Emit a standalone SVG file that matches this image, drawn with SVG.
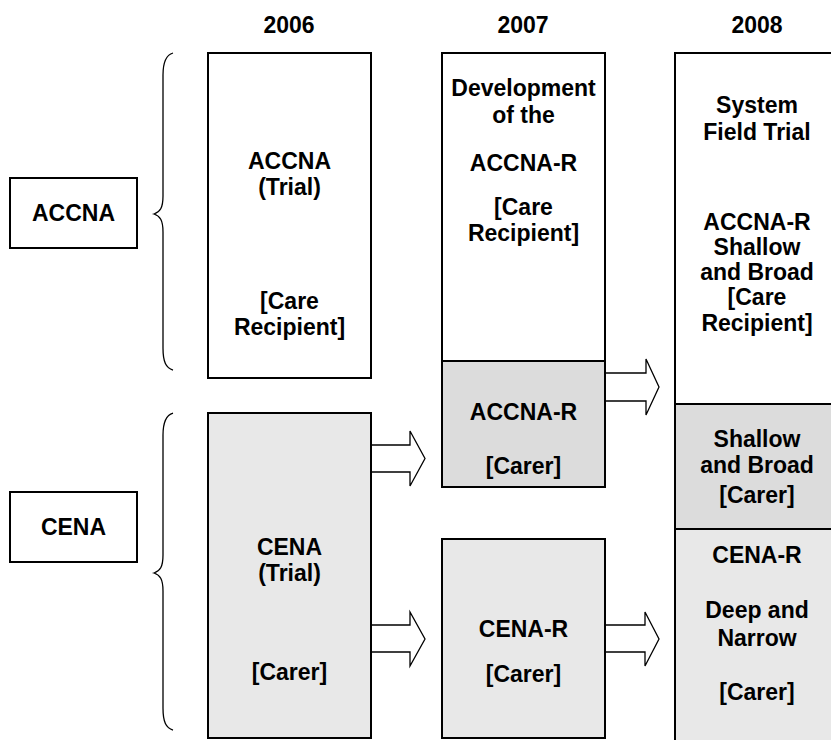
<svg xmlns="http://www.w3.org/2000/svg" width="831" height="740" viewBox="0 0 831 740">
  <style>
    .box { stroke: #000; stroke-width: 2; }
    .white { fill: #ffffff; }
    .light { fill: #e8e8e8; }
    .dark { fill: #dcdcdc; }
    .brace { fill: none; stroke: #000; stroke-width: 1.3; }
    .arrow { fill: #ffffff; stroke: #000; stroke-width: 1.3; stroke-linejoin: miter; }
    .t { font-family: "Liberation Sans", Arial, sans-serif; font-weight: bold; font-size: 23px; text-anchor: middle; fill: #000; }
  </style>
  <rect width="831" height="740" fill="#ffffff"/>

  <g id="years">
    <text class="t" x="289" y="33">2006</text>
    <text class="t" x="523" y="33">2007</text>
    <text class="t" x="757" y="33">2008</text>
  </g>

  <g id="label-accna">
    <rect class="box white" x="10" y="178" width="127" height="70"/>
    <text class="t" x="73.5" y="221">ACCNA</text>
  </g>
  <g id="label-cena">
    <rect class="box white" x="10" y="492" width="127" height="70"/>
    <text class="t" x="73.5" y="535">CENA</text>
  </g>

  <g id="braces">
    <path class="brace" d="M173,53 C166,55 163,62 163,75 L163,196 C163,208 160,212 154,214 C160,216 163,220 163,232 L163,348 C163,362 166,368 173,370"/>
    <path class="brace" d="M173,413 C166,415 163,422 163,435 L163,555 C163,567 160,571 154,573 C160,575 163,579 163,591 L163,708 C163,722 166,728 173,730"/>
  </g>

  <g id="accna-2006">
    <rect class="box white" x="208" y="53" width="163" height="325"/>
    <text class="t" x="289.5" y="169">ACCNA</text>
    <text class="t" x="289.5" y="195">(Trial)</text>
    <text class="t" x="289.5" y="309">[Care</text>
    <text class="t" x="289.5" y="335">Recipient]</text>
  </g>

  <g id="cena-2006">
    <rect class="box light" x="208" y="413" width="163" height="325"/>
    <text class="t" x="289.5" y="555">CENA</text>
    <text class="t" x="289.5" y="581">(Trial)</text>
    <text class="t" x="289.5" y="680">[Carer]</text>
  </g>

  <g id="accna-r-recipient-2007">
    <rect class="box white" x="442" y="53" width="163" height="308"/>
    <text class="t" x="523.5" y="96">Development</text>
    <text class="t" x="523.5" y="123">of the</text>
    <text class="t" x="523.5" y="171">ACCNA-R</text>
    <text class="t" x="523.5" y="215">[Care</text>
    <text class="t" x="523.5" y="241">Recipient]</text>
  </g>

  <g id="accna-r-carer-2007">
    <rect class="box dark" x="442" y="361" width="163" height="126"/>
    <text class="t" x="523.5" y="420">ACCNA-R</text>
    <text class="t" x="523.5" y="474">[Carer]</text>
  </g>

  <g id="cena-r-2007">
    <rect class="box light" x="442" y="539" width="163" height="199"/>
    <text class="t" x="523.5" y="637">CENA-R</text>
    <text class="t" x="523.5" y="682">[Carer]</text>
  </g>

  <g id="trial-2008-recipient">
    <rect class="box white" x="675" y="53" width="170" height="351"/>
    <text class="t" x="757" y="113">System</text>
    <text class="t" x="757" y="140">Field Trial</text>
    <text class="t" x="757" y="230">ACCNA-R</text>
    <text class="t" x="757" y="255">Shallow</text>
    <text class="t" x="757" y="280">and Broad</text>
    <text class="t" x="757" y="305">[Care</text>
    <text class="t" x="757" y="331">Recipient]</text>
  </g>

  <g id="trial-2008-carer">
    <rect class="box dark" x="675" y="404" width="170" height="125"/>
    <text class="t" x="757" y="447">Shallow</text>
    <text class="t" x="757" y="473">and Broad</text>
    <text class="t" x="757" y="503">[Carer]</text>
  </g>

  <g id="trial-2008-cena">
    <rect class="box light" x="675" y="529" width="170" height="220"/>
    <text class="t" x="757" y="563">CENA-R</text>
    <text class="t" x="757" y="618">Deep and</text>
    <text class="t" x="757" y="646">Narrow</text>
    <text class="t" x="757" y="700">[Carer]</text>
  </g>

  <g id="connectors">
    <path class="arrow" d="M372,445 L410,445 L410,431 L425,458.5 L410,486 L410,472 L372,472"/>
    <path class="arrow" d="M372,625 L410,625 L410,612 L425,639 L410,666 L410,652 L372,652"/>
    <path class="arrow" d="M606,373 L646,373 L646,359 L659,387 L646,415 L646,401 L606,401"/>
    <path class="arrow" d="M606,625 L645,625 L645,612 L659,639 L645,666 L645,652 L606,652"/>
  </g>
</svg>
